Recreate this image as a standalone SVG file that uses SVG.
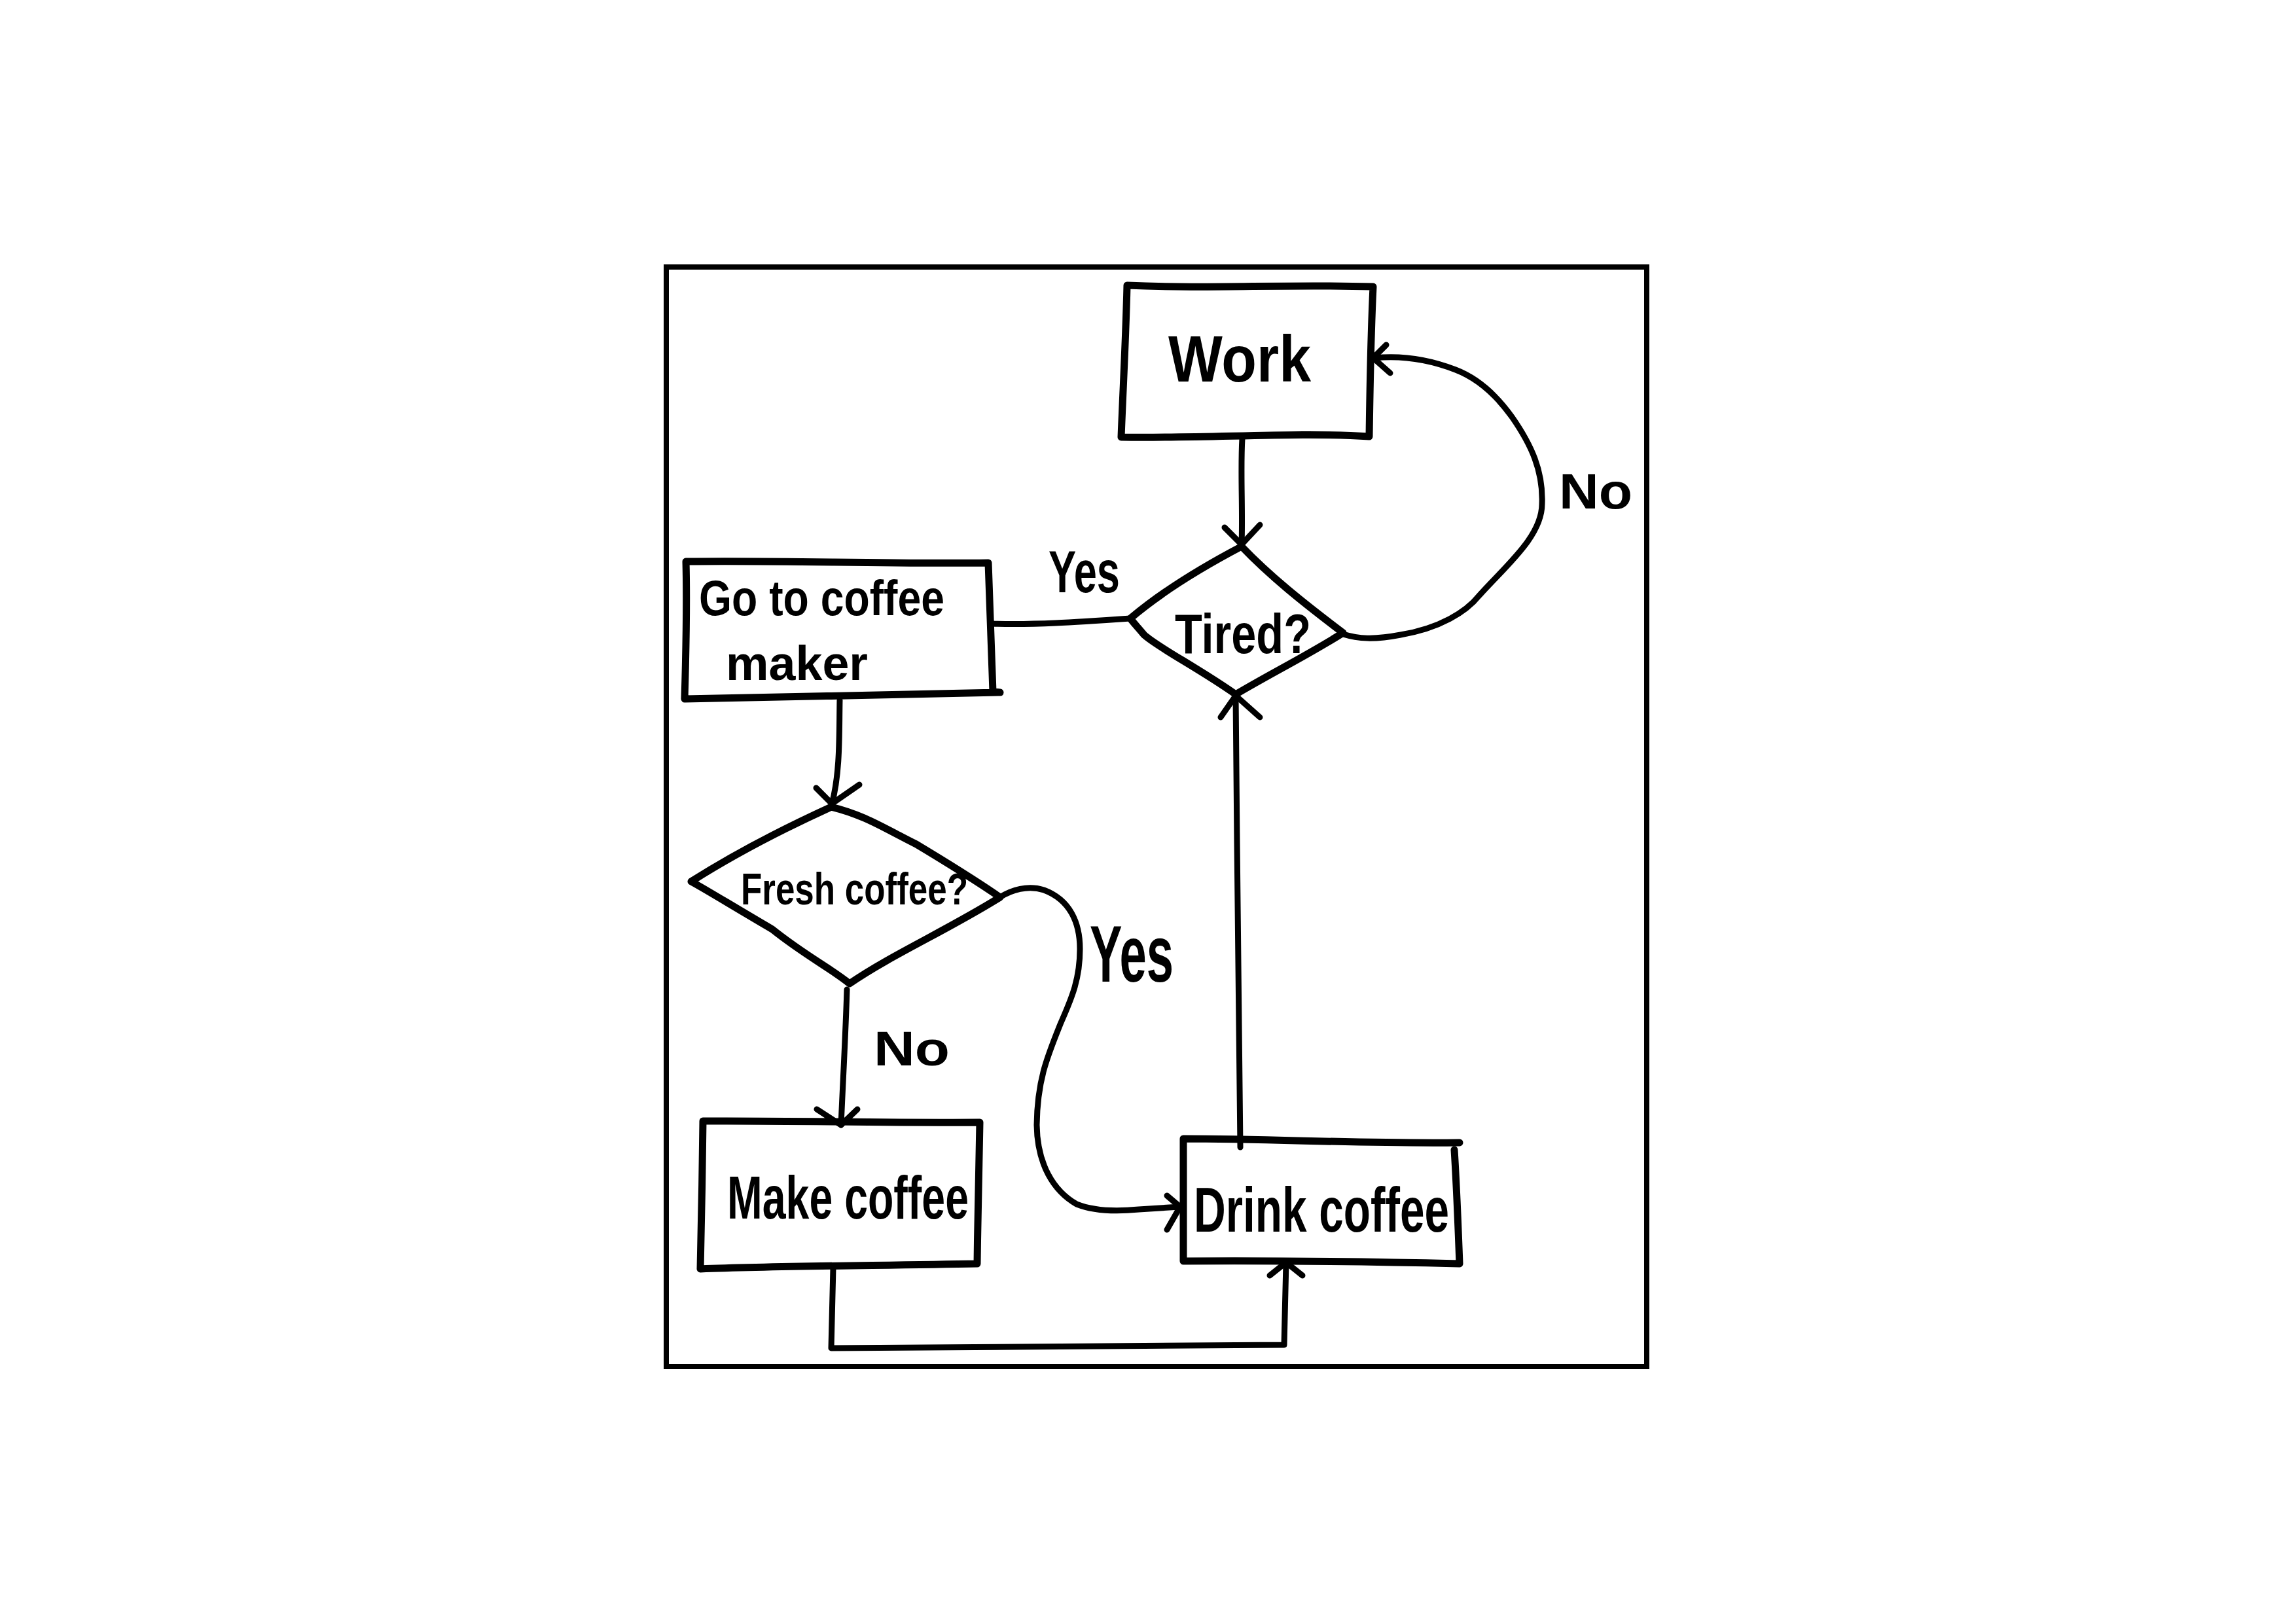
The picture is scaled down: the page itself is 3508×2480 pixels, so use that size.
<svg xmlns="http://www.w3.org/2000/svg" width="3508" height="2480" viewBox="0 0 3508 2480">
<style>
.shape{fill:none;stroke:#000;stroke-width:11;stroke-linejoin:round;stroke-linecap:round}
.conn{fill:none;stroke:#000;stroke-width:9;stroke-linejoin:round;stroke-linecap:round}
.t{font-family:"Liberation Sans","DejaVu Sans",sans-serif;font-weight:bold;fill:#000}
</style>
<rect width="3508" height="2480" fill="#fff"/>
<rect id="frame" x="1018" y="408" width="1498" height="1680" fill="none" stroke="#000" stroke-width="8"/>
<g id="connectors">
<path class="conn" d="M1898,670 C1895,720 1899,780 1897,832"/>
<path class="conn" d="M1871,806 L1897,832 L1925,802"/>
<path class="conn" d="M2052,969 C2075,976 2098,978 2140,970 C2200,960 2240,935 2260,910 C2300,865 2356,820 2356,770 C2358,720 2340,680 2310,637 C2280,595 2250,575 2224,565 C2180,548 2140,543 2100,547"/>
<path class="conn" d="M2118,527 L2098,547 L2124,570"/>
<path class="conn" d="M1515,953 C1580,955 1640,951 1727,945"/>
<path class="conn" d="M1283,1070 C1282,1120 1284,1180 1271,1228"/>
<path class="conn" d="M1247,1204 L1271,1228 L1313,1199"/>
<path class="conn" d="M1528,1371 C1545,1360 1570,1352 1595,1360 C1635,1375 1650,1410 1650,1450 C1650,1500 1635,1530 1620,1565 C1600,1615 1585,1650 1584,1719 C1585,1780 1610,1820 1645,1840 C1670,1850 1700,1852 1740,1848 L1803,1844"/>
<path class="conn" d="M1783,1827 L1803,1844 L1783,1879"/>
<path class="conn" d="M1294,1512 C1292,1580 1288,1650 1285,1719"/>
<path class="conn" d="M1248,1695 L1285,1719 L1310,1695"/>
<path class="conn" d="M1895,1753 C1893,1600 1890,1300 1888,1063"/>
<path class="conn" d="M1865,1096 L1888,1063 L1925,1096"/>
<path class="conn" d="M1273,1937 L1270,2060 C1500,2058 1700,2058 1962,2055 L1965,1929"/>
<path class="conn" d="M1940,1949 L1965,1929 L1990,1949"/>
</g>
<g id="work">
<path class="shape" d="M1722,436 C1850,442 1950,434 2098,438 C2094,520 2093,600 2092,667 C1980,660 1850,670 1713,668 C1716,590 1720,520 1722,436 Z"/>
<text class="t" x="1785" y="583" font-size="100" textLength="218" lengthAdjust="spacingAndGlyphs">Work</text>
</g>
<g id="tired">
<path class="shape" d="M1897,835 C1940,880 1990,920 2052,967 C2000,1000 1940,1030 1888,1061 C1830,1020 1770,990 1748,970 C1740,960 1732,952 1727,945 C1780,900 1840,865 1897,835 Z"/>
<text class="t" x="1795" y="998" font-size="86" textLength="208" lengthAdjust="spacingAndGlyphs">Tired?</text>
</g>
<g id="goto">
<path class="shape" d="M1048,858 C1200,856 1350,862 1510,860 C1512,930 1515,1000 1517,1057 L1528,1058 C1380,1060 1200,1066 1046,1068 C1048,1000 1050,930 1048,858 Z"/>
<text class="t" x="1068" y="940" font-size="76" textLength="375" lengthAdjust="spacingAndGlyphs">Go to coffee</text>
<text class="t" x="1109" y="1039" font-size="74" textLength="217" lengthAdjust="spacingAndGlyphs">maker</text>
</g>
<g id="fresh">
<path class="shape" d="M1270,1233 C1320,1245 1350,1265 1400,1290 C1450,1320 1490,1345 1528,1371 C1450,1420 1360,1460 1298,1503 C1270,1480 1230,1460 1180,1420 C1120,1385 1080,1360 1056,1347 C1130,1300 1200,1265 1270,1233 Z"/>
<text class="t" x="1132" y="1382" font-size="68" textLength="347" lengthAdjust="spacingAndGlyphs">Fresh coffee?</text>
</g>
<g id="make">
<path class="shape" d="M1074,1713 C1200,1712 1350,1716 1497,1715 C1495,1790 1494,1860 1493,1931 C1350,1934 1200,1934 1070,1939 C1072,1860 1073,1790 1074,1713 Z"/>
<text class="t" x="1111" y="1862" font-size="92" textLength="369" lengthAdjust="spacingAndGlyphs">Make coffee</text>
</g>
<g id="drink">
<path class="shape" d="M1808,1740 C1950,1740 2080,1748 2230,1746 M2222,1757 C2226,1820 2228,1880 2230,1931 C2100,1928 1950,1926 1808,1927 C1808,1860 1808,1800 1808,1740"/>
<text class="t" x="1824" y="1882" font-size="96" textLength="390" lengthAdjust="spacingAndGlyphs">Drink coffee</text>
</g>
<g id="labels">
<text class="t" x="1602" y="905" font-size="90" textLength="109" lengthAdjust="spacingAndGlyphs">Yes</text>
<text class="t" x="2382" y="777" font-size="76" textLength="112" lengthAdjust="spacingAndGlyphs">No</text>
<text class="t" x="1665" y="1500" font-size="122" textLength="128" lengthAdjust="spacingAndGlyphs">Yes</text>
<text class="t" x="1335" y="1628" font-size="74" textLength="116" lengthAdjust="spacingAndGlyphs">No</text>
</g>
</svg>
